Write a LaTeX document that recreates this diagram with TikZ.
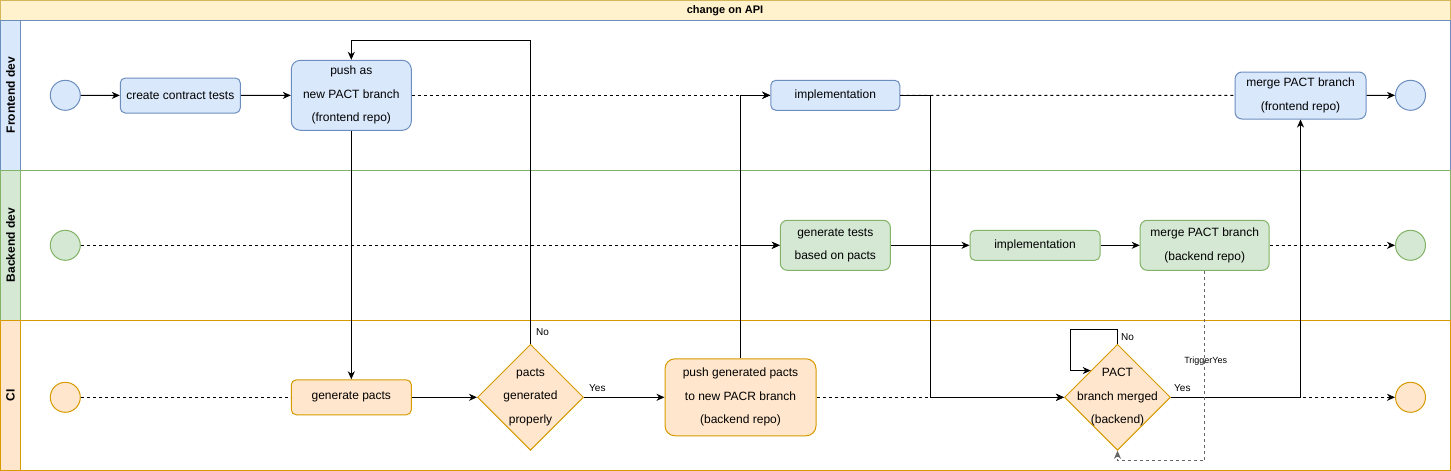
\documentclass[tikz,border=0pt]{standalone}
\usepackage{fontspec}
\setmainfont{Liberation Sans}
\usetikzlibrary{shapes.geometric,arrows.meta,calc}
\definecolor{feF}{HTML}{DAE8FC}
\definecolor{feS}{HTML}{6C8EBF}
\definecolor{beF}{HTML}{D5E8D4}
\definecolor{beS}{HTML}{82B366}
\definecolor{ciF}{HTML}{FFE6CC}
\definecolor{ciS}{HTML}{D79B00}
\definecolor{tiF}{HTML}{FFF2CC}
\definecolor{tiS}{HTML}{D6B656}
\definecolor{trg}{HTML}{666666}
\newcommand\boxfont{\fontsize{12}{23.5}\selectfont}
\tikzset{
  lane/.style={line width=1pt},
  box/.style={draw, line width=1pt, rounded corners=6pt, align=center, font=\boxfont, inner sep=0pt},
  fe/.style={box, fill=feF, draw=feS},
  be/.style={box, fill=beF, draw=beS},
  ci/.style={box, fill=ciF, draw=ciS},
  evt/.style={circle, draw, line width=1pt, minimum size=30pt, inner sep=0pt},
  dec/.style={diamond, draw=ciS, fill=ciF, line width=1pt, minimum width=106pt, minimum height=106pt, inner sep=0pt},
  dectext/.style={label={[align=center, font=\boxfont, inner sep=0pt]center:#1}},
  lanelabel/.style={rotate=90, font=\fontsize{12}{14}\selectfont\bfseries},
  lbl/.style={font=\fontsize{10}{12}\selectfont, inner sep=0pt},
  arr/.style={line width=1pt, -{Stealth[length=8pt,width=7pt,inset=2.5pt]}},
  darr/.style={arr, dash pattern=on 3pt off 3pt},
  dline/.style={line width=1pt, dash pattern=on 3pt off 3pt},
  garr/.style={line width=1pt, draw=trg, dash pattern=on 3pt off 3pt, -{Stealth[length=8pt,width=7pt,inset=2.5pt]}},
}
\begin{document}
\begin{tikzpicture}[x=1pt,y=-1pt]
\useasboundingbox (0,0) rectangle (1451,471);
% title
\draw[lane, fill=tiF, draw=tiS] (0.5,0.5) rectangle (1450.5,20.5);
\node[font=\fontsize{11}{13}\selectfont\bfseries] (title) at (725,10.5) {change on API};
% lanes
\draw[lane, draw=feS, fill=white] (0.5,20.5) rectangle (1450.5,170);
\draw[lane, draw=feS, fill=feF] (0.5,20.5) rectangle (20.5,170);
\node[lanelabel] (lfe) at (10.5,95) {Frontend dev};
\draw[lane, draw=beS, fill=white] (0.5,170) rectangle (1450.5,320);
\draw[lane, draw=beS, fill=beF] (0.5,170) rectangle (20.5,320);
\node[lanelabel] (lbe) at (10.5,245) {Backend dev};
\draw[lane, draw=ciS, fill=white] (0.5,320) rectangle (1450.5,470);
\draw[lane, draw=ciS, fill=ciF] (0.5,320) rectangle (20.5,470);
\node[lanelabel] (lci) at (10.5,395) {CI};

% frontend
\node[evt, draw=feS, fill=feF] (fes) at (65.3,95.3) {};
\node[fe, minimum width=120pt, minimum height=35pt, rounded corners=5pt] (fec) at (180.3,95.5) {create contract tests};
\node[fe, minimum width=120pt, minimum height=70pt, rounded corners=9pt] (fep) at (351.3,95.3) {push as\\new PACT branch\\(frontend repo)};
\node[fe, minimum width=129pt, minimum height=30pt, rounded corners=5pt] (fei) at (835.3,95.3) {implementation};
\node[fe, minimum width=131pt, minimum height=47pt, rounded corners=7pt] (fem) at (1300.5,95.5) {merge PACT branch\\(frontend repo)};
\node[evt, draw=feS, fill=feF] (fee) at (1410.5,95.3) {};

% backend
\node[evt, draw=beS, fill=beF] (bes) at (65.3,245.3) {};
\node[be, minimum width=110pt, minimum height=50pt, rounded corners=7pt] (begt) at (835.3,245.3) {generate tests\\based on pacts};
\node[be, minimum width=130pt, minimum height=30pt, rounded corners=5pt] (bei) at (1035,245.3) {implementation};
\node[be, minimum width=129pt, minimum height=50pt, rounded corners=7pt] (bem) at (1204.7,245.3) {merge PACT branch\\(backend repo)};
\node[evt, draw=beS, fill=beF] (bee) at (1410.5,245.3) {};

% CI
\node[evt, draw=ciS, fill=ciF] (cis) at (65.3,397.3) {};
\node[ci, minimum width=120pt, minimum height=35pt, rounded corners=5pt] (cgp) at (351.3,397.3) {generate pacts};
\node[dec, dectext={pacts\\generated\\properly}] (d1) at (530.5,397.3) {};
\node[ci, minimum width=151pt, minimum height=77pt, rounded corners=10pt] (cpush) at (740.5,397.3) {push generated pacts\\to new PACR branch\\(backend repo)};
\node[dec, dectext={PACT\\branch merged\\(backend)}] (d2) at (1117.5,397.3) {};
\node[evt, draw=ciS, fill=ciF] (cie) at (1410.5,397.3) {};

% connectors
\draw[arr] (fes) -- (fec);
\draw[arr] (fec) -- (fep);
\draw[darr] (fep) -- (fei);
\draw[dline] (fei) -- (fem);
\draw[arr] (fem) -- (fee);
\draw[arr] (fep) -- (cgp);
\draw[dline] (cis) -- (cgp);
\draw[arr] (cgp) -- (d1);
\draw[arr] (d1) -- (cpush);
\node[lbl, anchor=south west] (yes1) at (589,392) {Yes};
\draw[arr] (d1.north) -- (d1.north |- 0,40) -| (fep.north);
\node[lbl, anchor=west] (no1) at (536,332.5) {No};
\draw[darr] (bes) -- (begt);
\draw[arr] (cpush.north) |- (begt);
\draw[arr] (cpush.north) |- (fei);
\draw[arr] (begt) -- (bei);
\draw[arr] (bei) -- (bem);
\draw[darr] (bem) -- (bee);
\draw[darr] (cpush) -- (d2);
\draw[arr] (fei.east) -- ++(30,0) |- (d2.west);
\draw[darr] (d2) -- (cie);
\draw[arr] (d2.east) -| (fem.south);
\node[lbl, anchor=south west] (yes2) at (1174,392) {Yes};
\draw[arr] (d2.north) -- ++(0,-14) -- ++(-47.5,0) |- ($(d2.west)!0.5!(d2.north)$);
\node[lbl, anchor=west] (no2) at (1121,337) {No};
\draw[garr] (bem.south) -- ++(0,190) -| (d2.south);
\node[lbl, font=\fontsize{9}{11}\selectfont] (trig) at (1205.7,361) {TriggerYes};
\end{tikzpicture}
\end{document}
